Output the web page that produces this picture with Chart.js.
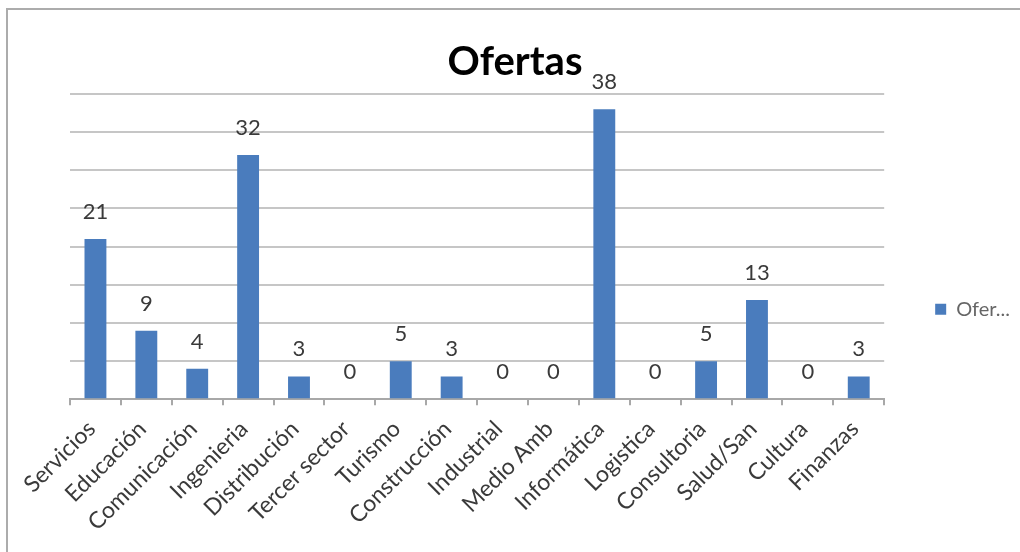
<!DOCTYPE html>
<html>
<head>
<meta charset="utf-8">
<script src="https://cdn.jsdelivr.net/npm/chart.js@4/dist/chart.umd.min.js"></script>
<style>
  html, body { margin: 0; padding: 0; background: #ffffff; }
  #wrap { position: relative; width: 1020px; height: 552px; }
  #frame { position: absolute; left: 6px; top: 8px; width: 1014px; height: 544px;
           border-left: 2px solid #acacac; border-top: 2px solid #acacac; pointer-events: none; }
  canvas { position: absolute; left: 0; top: 0; }
</style>
</head>
<body>
<div id="wrap">
  <canvas id="c" width="1020" height="552"></canvas>
  <div id="frame"></div>
</div>
<script>
const chartTitle = 'Ofertas';
const seriesName = 'Ofertas';
const categories = ['Servicios', 'Educación', 'Comunicación', 'Ingenieria', 'Distribución',
  'Tercer sector', 'Turismo', 'Construcción', 'Industrial', 'Medio Amb', 'Informática',
  'Logistica', 'Consultoria', 'Salud/San', 'Cultura', 'Finanzas'];
const values = [21, 9, 4, 32, 3, 0, 5, 3, 0, 0, 38, 0, 5, 13, 0, 3];
const yMin = 0;
const yMax = 40;
const yStep = 5;

const valueLabels = {
  id: 'valueLabels',
  afterDatasetsDraw(chart) {
    const ctx = chart.ctx;
    const meta = chart.getDatasetMeta(0);
    ctx.save();
    ctx.font = '22px Lato';
    ctx.fillStyle = '#3a3a3a';
    ctx.textAlign = 'center';
    ctx.textBaseline = 'alphabetic';
    meta.data.forEach((bar, i) => {
      ctx.fillText(String(values[i]), bar.x, bar.y - 20);
    });
    ctx.restore();
  }
};

new Chart(document.getElementById('c'), {
  type: 'bar',
  data: {
    labels: categories,
    datasets: [{
      label: seriesName,
      data: values,
      backgroundColor: '#4a7cbd',
      borderWidth: 0,
      categoryPercentage: 1,
      barPercentage: 0.43
    }]
  },
  options: {
    responsive: false,
    animation: false,
    devicePixelRatio: 1,
    layout: { padding: { left: 10, right: 0, top: 10, bottom: 6 } },
    plugins: {
      title: {
        display: true,
        text: chartTitle,
        color: '#000000',
        font: { family: 'Lato', size: 40, weight: 'bold', lineHeight: 1.2 },
        padding: { top: 28, bottom: 8 }
      },
      legend: {
        display: true,
        position: 'right',
        fullSize: false,
        title: { display: true, text: '', font: { size: 10 }, padding: { top: 113, bottom: 0 } },
        labels: {
          boxWidth: 11,
          boxHeight: 11,
          padding: 10,
          color: '#3a3a3a',
          font: { family: 'Lato', size: 20 },
          generateLabels(chart) {
            const ds = chart.data.datasets[0];
            return [{
              text: ds.label.slice(0, 4) + '...',
              fillStyle: ds.backgroundColor,
              strokeStyle: ds.backgroundColor,
              lineWidth: 0,
              datasetIndex: 0,
              hidden: false
            }];
          }
        }
      },
      tooltip: { enabled: false }
    },
    scales: {
      x: {
        offset: true,
        grid: { display: true, drawOnChartArea: false, drawTicks: true, tickLength: 6, color: '#a8a8a8', lineWidth: 2, offset: true },
        border: { display: true, color: '#a8a8a8', width: 2 },
        ticks: {
          autoSkip: false,
          maxRotation: 45,
          minRotation: 45,
          labelOffset: -4,
          padding: 10,
          color: '#3a3a3a',
          font: { family: 'Lato', size: 23 }
        }
      },
      y: {
        min: yMin,
        max: yMax,
        grid: { display: true, drawTicks: false, color: '#c6c6c6', lineWidth: 2 },
        border: { display: false },
        ticks: { display: false, stepSize: yStep },
        afterFit(scale) { scale.width = 60; }
      },
      y2: {
        position: 'right',
        min: yMin,
        max: yMax,
        grid: { display: false, drawTicks: false },
        border: { display: false },
        ticks: { display: false },
        afterFit(scale) { scale.width = 41; }
      }
    }
  },
  plugins: [valueLabels]
});
</script>
</body>
</html>
